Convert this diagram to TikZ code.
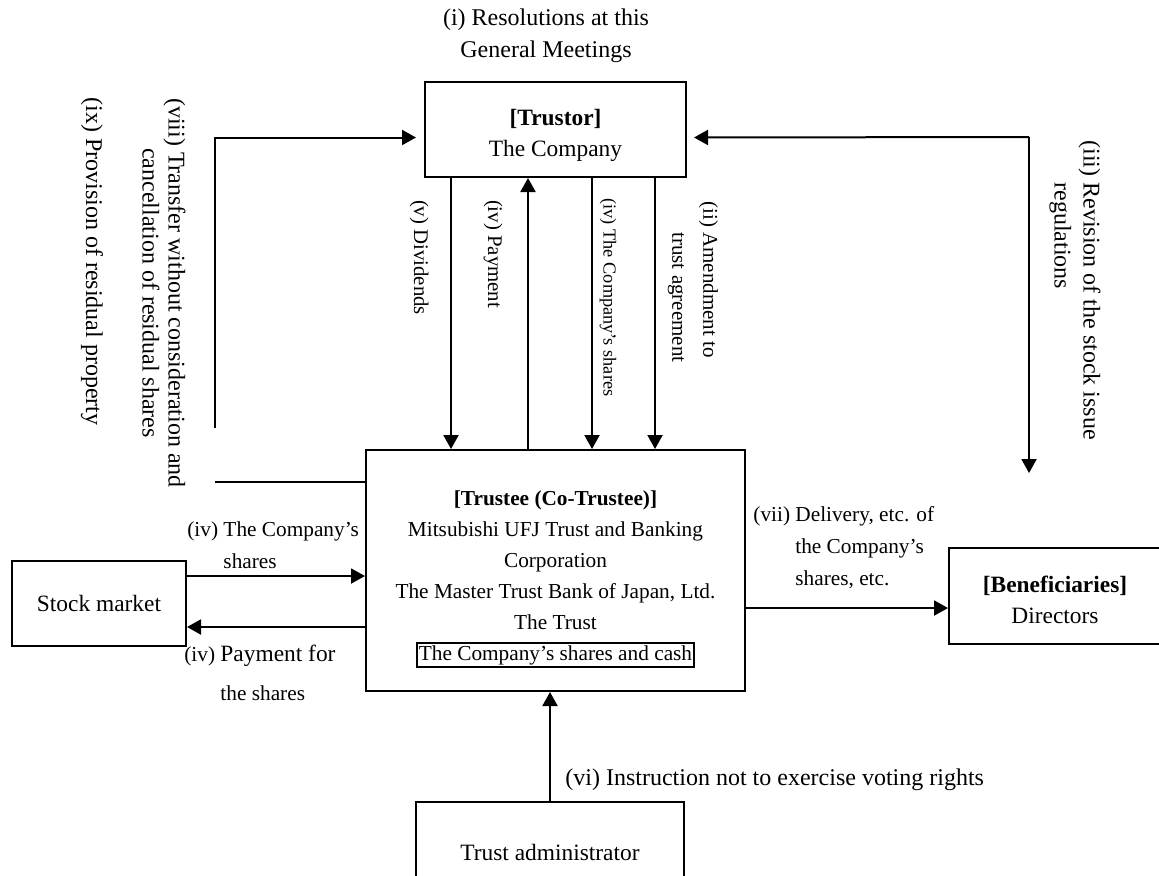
\documentclass[tikz,border=0pt]{standalone}
\usepackage{fontspec}
\setmainfont{Liberation Serif}
\usetikzlibrary{arrows.meta}
\setlength{\fboxsep}{0.5pt}
\setlength{\fboxrule}{1pt}

\begin{document}
\begin{tikzpicture}[
    x=0.5pt, y=-0.5pt,
    box/.style={draw, rectangle, align=center, line width=1pt, inner sep=0pt, font=\fontsize{11.7}{15.5}\selectfont},
    arrow/.style={-{Triangle[length=7pt,width=7.5pt]}, line width=1pt},
    lbl/.style={inner sep=0pt, align=left, font=\fontsize{10.65}{16}\selectfont},
    vlbl/.style={lbl, rotate=-90, font=\fontsize{12}{14}\selectfont}
    ]
    \useasboundingbox (0,0) rectangle (1159,875);

    \node[box, minimum width=130.5pt, minimum height=47.5pt] (trustor) at (555.5,129.5) {\rule{0pt}{14.5pt}\textbf{[Trustor]} \\ The Company};

    \node[box, minimum width=189.5pt, minimum height=120.5pt, font=\fontsize{10.65}{15.5}\selectfont] (trustee) at (555.5,570.5) {\rule{0pt}{16pt}\textbf{[Trustee (Co-Trustee)]} \\ Mitsubishi UFJ Trust and Banking \\ Corporation \\ The Master Trust Bank of Japan, Ltd. \\ The Trust \\ \fbox{The Company's shares and cash}};

    \node[box, minimum width=87pt, minimum height=42.5pt] (market) at (99,603.5) {Stock market};

    \node[box, minimum width=106pt, minimum height=48pt] (benef) at (1055,596) {\rule{0pt}{12pt}\textbf{[Beneficiaries]} \\ Directors};

    \node[box, minimum width=134pt, minimum height=50pt] (admin) at (550,852) {Trust administrator};

    \node[lbl, align=center, font=\fontsize{12}{16}\selectfont] (resollbl) at (546,36) {(i) Resolutions at this \\ General Meetings};
    \node[vlbl] (provlbl) at (92,261.5) {(ix) Provision of residual property};
    \node[vlbl, align=center, font=\fontsize{12}{13}\selectfont] (translbl) at (164,293) {(viii) Transfer without consideration and \\ cancellation of residual shares};
    \node[vlbl, font=\fontsize{10.4}{12}\selectfont] (divlbl) at (419,257.5) {(v) Dividends};
    \node[vlbl, font=\fontsize{10.4}{12}\selectfont] (paylbl) at (493,254) {(iv) Payment};
    \node[vlbl, font=\fontsize{9.15}{11}\selectfont] (shareslbl) at (608,297.5) {(iv) The Company's shares};
    \node[vlbl, font=\fontsize{10.5}{15.5}\selectfont] (amendlbl) at (693,282) {(ii) Amendment to \\ \hphantom{(ii) }trust agreement};
    \node[vlbl, font=\fontsize{12}{14.5}\selectfont] (revlbl) at (1075,290) {(iii) Revision of the stock issue \\ \hphantom{(iii) }regulations};
    \node[lbl, anchor=west] (buylbl) at (187,545) {(iv) The Company's \\ \hphantom{(iv) }shares};
    \node[lbl, anchor=west, font=\fontsize{10.65}{19.5}\selectfont] (selllbl) at (184,673) {(iv) {\fontsize{11.7}{19.5}\selectfont Payment for} \\ \hphantom{(iv) }the shares};
    \node[lbl, anchor=west] (delivlbl) at (753,548) {(vii) Delivery, etc. of \\ \hphantom{(vii) }the Company's \\ \hphantom{(vii) }shares, etc.};
    \node[lbl, anchor=west, font=\fontsize{12}{14}\selectfont] (instrlbl) at (565,780) {(vi) Instruction not to exercise voting rights};

    \coordinate (lcorner) at (215,428);
    \coordinate (lfree) at (215,482);
    \coordinate (rcorner) at (1029,137);
    \coordinate (rend) at (1029,473);

    \draw[arrow, shorten >=4pt] (lcorner) |- ([yshift=-4pt]trustor.west);
    \draw[line width=1pt] (lfree) -- (lfree -| trustee.west);
    \draw[arrow] (rcorner) -- (rend);
    \draw[arrow, shorten >=3.5pt] (rcorner) -- ([yshift=-4pt]trustor.east);

    \draw[arrow] ([xshift=-52.25pt]trustor.south) -- ([xshift=-52.25pt]trustee.north);
    \draw[arrow] ([xshift=-13.75pt]trustee.north) -- ([xshift=-13.75pt]trustor.south);
    \draw[arrow] ([xshift=18.25pt]trustor.south) -- ([xshift=18.25pt]trustee.north);
    \draw[arrow] ([xshift=49.75pt]trustor.south) -- ([xshift=49.75pt]trustee.north);

    \draw[arrow] ([yshift=13.75pt]market.east) -- ([yshift=13.75pt]market.east -| trustee.west);
    \draw[arrow] ([yshift=-11.75pt]market.east -| trustee.west) -- ([yshift=-11.75pt]market.east);
    \draw[arrow] ([yshift=-6pt]benef.west -| trustee.east) -- ([yshift=-6pt]benef.west);
    \draw[arrow] (admin.north) -- (admin.north |- trustee.south);

\end{tikzpicture}
\end{document}
